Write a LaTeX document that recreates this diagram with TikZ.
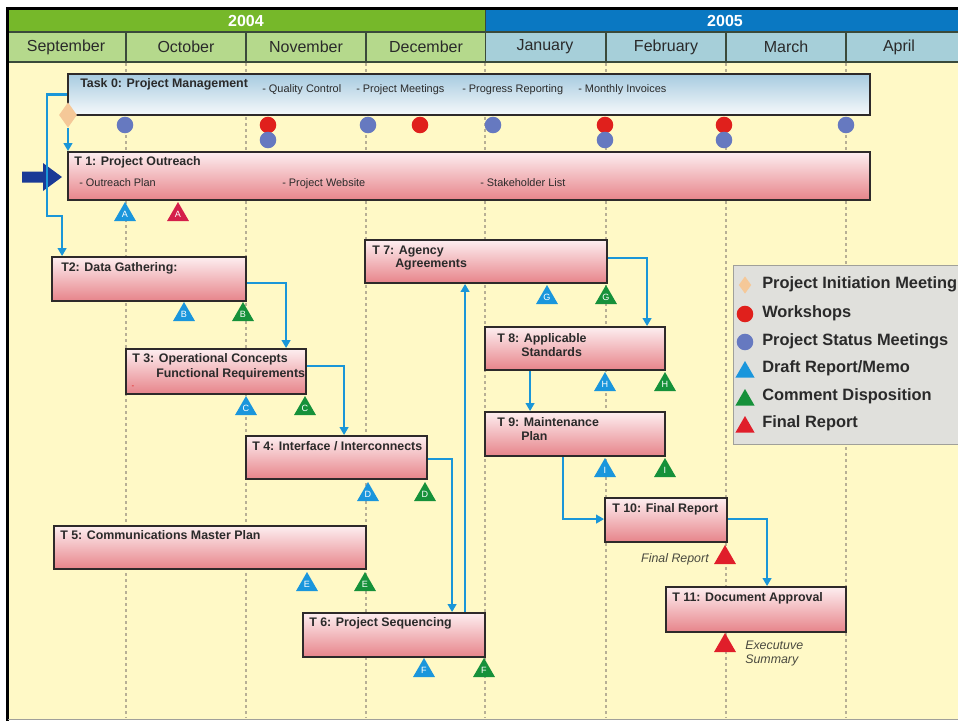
\documentclass[tikz,border=0pt]{standalone}
\usepackage{fontspec}
\setmainfont{Liberation Sans}
\usetikzlibrary{arrows.meta,shapes.geometric,calc}
\definecolor{hgreen}{HTML}{76B82A}
\definecolor{mgreen}{HTML}{B5D98C}
\definecolor{hblue}{HTML}{0A78C2}
\definecolor{mblue}{HTML}{A6CFD9}
\definecolor{bgyellow}{HTML}{FFF9C6}
\definecolor{gridc}{HTML}{B8B095}
\definecolor{boxline}{HTML}{2E2A2A}
\definecolor{pinktop}{HTML}{FDEEF0}
\definecolor{pinkbot}{HTML}{E7848A}
\definecolor{mgtop}{HTML}{A7CBE0}
\definecolor{mgbot}{HTML}{F6F9FB}
\definecolor{lineblue}{HTML}{1A96D8}
\definecolor{dotblue}{HTML}{6679C0}
\definecolor{dotred}{HTML}{E0201C}
\definecolor{triblue}{HTML}{1A96DC}
\definecolor{trigreen}{HTML}{16913A}
\definecolor{trired}{HTML}{E01E2A}
\definecolor{tricrim}{HTML}{D41F4A}
\definecolor{legfill}{HTML}{E0E0DC}
\definecolor{legline}{HTML}{A0A09A}
\definecolor{navyarrow}{HTML}{1A3A96}
\definecolor{pimc}{HTML}{F5C898}
\definecolor{txt}{HTML}{2A2A2A}
\definecolor{hdrline}{HTML}{3A4A3A}
\definecolor{italtxt}{HTML}{4A4A40}
\newcommand\taskrect[6]{\node[#6, minimum width={(#4-(#2))*0.75pt}, minimum height={(#5-(#3))*0.75pt}] (#1) at ({(#2+#4)/2},{(#3+#5)/2}) {};}
\begin{document}
\begin{tikzpicture}[x=0.75pt,y=-0.75pt,
  taskbox/.style={draw=boxline, line width=1.4pt, top color=pinktop, bottom color=pinkbot, inner sep=0pt},
  mgmtbox/.style={draw=boxline, line width=1.4pt, top color=mgtop, bottom color=mgbot, inner sep=0pt},
  ttl/.style={anchor=mid west, inner sep=0pt, font=\bfseries\fontsize{9.3}{11}\selectfont, text=txt},
  itm/.style={anchor=mid west, inner sep=0pt, font=\fontsize{8.2}{10}\selectfont, text=txt},
  month/.style={inner sep=0pt, font=\fontsize{12}{14}\selectfont, text=txt},
  yearlab/.style={inner sep=0pt, font=\bfseries\fontsize{12}{14}\selectfont, text=white},
  conn/.style={draw=lineblue, line width=1.6pt, -{Triangle[length=6pt,width=6.5pt]}},
  tri/.style={regular polygon, regular polygon sides=3, fill=#1, minimum size=19pt, inner sep=0pt, text=white, font=\fontsize{6.8}{7}\selectfont},
  legtri/.style={regular polygon, regular polygon sides=3, fill=#1, minimum size=16.5pt, inner sep=0pt},
  mdot/.style={circle, fill=#1, minimum size=12.4pt, inner sep=0pt},
  legtxt/.style={anchor=mid west, inner sep=0pt, font=\bfseries\fontsize{12.3}{14}\selectfont, text=txt},
  ital/.style={inner sep=0pt, font=\itshape\fontsize{9.3}{11}\selectfont, text=italtxt},
  gridline/.style={draw=gridc, line width=0.8pt, dash pattern=on 2.5pt off 2pt}
]
\useasboundingbox (0,0) rectangle (958,721);
\clip (0,0) rectangle (958,721);
\fill[white] (0,0) rectangle (958,721);
\fill[bgyellow] (8,62) rectangle (958,719);
% header
\fill[hgreen] (8,9) rectangle (485,32);
\fill[hblue] (485,9) rectangle (958,32);
\fill[mgreen] (8,32) rectangle (485,62);
\fill[mblue] (485,32) rectangle (958,62);
\draw[hdrline, line width=1pt] (8,32) -- (958,32);
\draw[hdrline, line width=1.2pt] (8,62) -- (958,62);
\foreach \gx in {126,246,366,606,726,846} \draw[hdrline, line width=1pt] (\gx,32) -- (\gx,62);
\draw[hdrline, line width=0.6pt] (485,9) -- (485,62);
\node[yearlab] (y2004) at (246,21) {2004};
\node[yearlab] (y2005) at (725,21) {2005};
\node[month] (msep) at (66,47) {September};
\node[month] (moct) at (186,47) {October};
\node[month] (mnov) at (306,47) {November};
\node[month] (mdec) at (426,47) {December};
\node[month] (mjan) at (545,47) {January};
\node[month] (mfeb) at (666,47) {February};
\node[month] (mmar) at (786,47) {March};
\node[month] (mapr) at (899,47) {April};
% frame
\draw[black, line width=2.4pt] (7.5,721) -- (7.5,8.5) -- (958,8.5);
\draw[legline, line width=1pt] (8,719.5) -- (958,719.5);
% grid
\foreach \gx in {126,246,366,485,606,726,846} \draw[gridline] (\gx,63) -- (\gx,718);
% legend
\node[draw=legline, fill=legfill, line width=1pt, anchor=north west, minimum width=180pt, minimum height=134pt] (legend) at (733,265) {};
\node[diamond, fill=pimc, minimum width=9.5pt, minimum height=13pt, inner sep=0pt] (lgpim) at (745,285) {};
\node[legtxt] (lgpimt) at (762,285) {Project Initiation Meeting};
\node[mdot=dotred] (lgws) at (745,314) {};
\node[legtxt] (lgwst) at (762,314) {Workshops};
\node[mdot=dotblue] (lgsm) at (745,342) {};
\node[legtxt] (lgsmt) at (762,342) {Project Status Meetings};
\node[legtri=triblue] (lgdr) at (745,372) {};
\node[legtxt] (lgdrt) at (762,369) {Draft Report/Memo};
\node[legtri=trigreen] (lgcd) at (745,400) {};
\node[legtxt] (lgcdt) at (762,397) {Comment Disposition};
\node[legtri=trired] (lgfr) at (745,427) {};
\node[legtxt] (lgfrt) at (762,424) {Final Report};
% navy pointer arrow
\fill[navyarrow] (22,171.5) -- (43,171.5) -- (43,163) -- (62,177) -- (43,191) -- (43,182.5) -- (22,182.5) -- cycle;
% boxes
\taskrect{t0}{68}{74}{870}{115}{mgmtbox}
\taskrect{t1}{68}{152}{870}{200}{taskbox}
\taskrect{t2}{52}{257}{246}{301}{taskbox}
\taskrect{t3}{126}{349}{306}{394}{taskbox}
\taskrect{t4}{246}{436}{427}{479}{taskbox}
\taskrect{t5}{54}{526}{366}{569}{taskbox}
\taskrect{t6}{303}{613}{485}{657}{taskbox}
\taskrect{t7}{365}{240}{607}{283}{taskbox}
\taskrect{t8}{485}{327}{665}{370}{taskbox}
\taskrect{t9}{485}{412}{665}{456}{taskbox}
\taskrect{t10}{605}{498}{727}{542}{taskbox}
\taskrect{t11}{666}{587}{846}{632}{taskbox}
% box texts
\node[ttl] (t0t) at (80,84) {Task 0: Project Management};
\node[itm] (t0a) at (262,89) {- Quality Control};
\node[itm] (t0b) at (356,89) {- Project Meetings};
\node[itm] (t0c) at (462,89) {- Progress Reporting};
\node[itm] (t0d) at (578,89) {- Monthly Invoices};
\node[ttl] (t1t) at (74,162) {T 1: Project Outreach};
\node[itm] (t1a) at (79,183) {- Outreach Plan};
\node[itm] (t1b) at (282,183) {- Project Website};
\node[itm] (t1c) at (480,183) {- Stakeholder List};
\node[ttl] (t2t) at (61,268) {T2: Data Gathering:};
\node[ttl] (t3t) at (132,359) {T 3: Operational Concepts};
\node[ttl] (t3u) at (156,374) {Functional Requirements};
\node[inner sep=0pt, font=\fontsize{6}{6}\selectfont, text=dotred] (t3d) at (133,387) {-};
\node[ttl] (t4t) at (252,447) {T 4: Interface / Interconnects};
\node[ttl] (t5t) at (60,536) {T 5: Communications Master Plan};
\node[ttl] (t6t) at (309,623) {T 6: Project Sequencing};
\node[ttl] (t7t) at (372,251) {T 7: Agency};
\node[ttl] (t7u) at (395,264) {Agreements};
\node[ttl] (t8t) at (497,339) {T 8: Applicable};
\node[ttl] (t8u) at (521,353) {Standards};
\node[ttl] (t9t) at (497,423) {T 9: Maintenance};
\node[ttl] (t9u) at (521,437) {Plan};
\node[ttl] (t10t) at (612,509) {T 10: Final Report};
\node[ttl] (t11t) at (672,598) {T 11: Document Approval};
% connectors
\coordinate (k1) at (47,216);
\draw[conn] (t0.west) -| (k1) -| ($(t2.north west)+(11,0)$);
\node[diamond, fill=pimc, minimum width=13.5pt, minimum height=19pt, inner sep=0pt] (pim) at (68,115) {};
\draw[conn] (pim.south) -- (pim.south |- t1.north);
\draw[conn] ($(t2.south east)+(0,-19)$) -| ($(t3.north west)+(161,0)$);
\draw[conn] ($(t3.north east)+(0,18)$) -| ($(t4.north west)+(99,0)$);
\draw[conn] ($(t4.north east)+(0,24)$) -| ($(t6.north west)+(150,0)$);
\draw[conn] ($(t6.north west)+(163,0)$) -- ($(t7.south west)+(101,0)$);
\draw[conn] ($(t7.north east)+(0,19)$) -| ($(t8.north west)+(163,0)$);
\draw[conn] ($(t8.south west)+(46,0)$) -- ($(t9.north west)+(46,0)$);
\draw[conn] ($(t9.south west)+(79,0)$) |- ($(t10.north west)+(0,22)$);
\draw[conn] ($(t10.north east)+(0,22)$) -| ($(t11.north west)+(102,0)$);
% status circles
\node[mdot=dotblue] (c1) at (125,125) {};
\node[mdot=dotred] (c2) at (268,125) {};
\node[mdot=dotblue] (c3) at (268,140) {};
\node[mdot=dotblue] (c4) at (368,125) {};
\node[mdot=dotred] (c5) at (420,125) {};
\node[mdot=dotblue] (c6) at (493,125) {};
\node[mdot=dotred] (c7) at (605,125) {};
\node[mdot=dotblue] (c8) at (605,140) {};
\node[mdot=dotred] (c9) at (724,125) {};
\node[mdot=dotblue] (c10) at (724,140) {};
\node[mdot=dotblue] (c11) at (846,125) {};
% deliverable triangles
\node[tri=triblue] (da) at (125,214.7) {A};
\node[tri=tricrim] (fa) at (178,214.7) {A};
\node[tri=triblue] (db) at (184,314.7) {B};
\node[tri=trigreen] (cb) at (243,314.7) {B};
\node[tri=triblue] (dc) at (246,408.7) {C};
\node[tri=trigreen] (cc) at (305,408.7) {C};
\node[tri=triblue] (dd) at (368,494.7) {D};
\node[tri=trigreen] (cd) at (425,494.7) {D};
\node[tri=triblue] (de) at (307,584.7) {E};
\node[tri=trigreen] (ce) at (365,584.7) {E};
\node[tri=triblue] (df) at (424,670.7) {F};
\node[tri=trigreen] (cf) at (484,670.7) {F};
\node[tri=triblue] (dg) at (547,297.7) {G};
\node[tri=trigreen] (cg) at (606,297.7) {G};
\node[tri=triblue] (dh) at (605,384.7) {H};
\node[tri=trigreen] (ch) at (665,384.7) {H};
\node[tri=triblue] (di) at (605,470.7) {I};
\node[tri=trigreen] (ci) at (665,470.7) {I};
\node[tri=trired] (fr10) at (725,557.7) {};
\node[tri=trired] (fr11) at (725,645.7) {};
\node[ital, anchor=mid east] (frlab) at (709,559) {Final Report};
\node[ital, anchor=mid west] (exlab) at (745,646) {Executuve};
\node[ital, anchor=mid west] (exlab2) at (745,660) {Summary};
\end{tikzpicture}
\end{document}
